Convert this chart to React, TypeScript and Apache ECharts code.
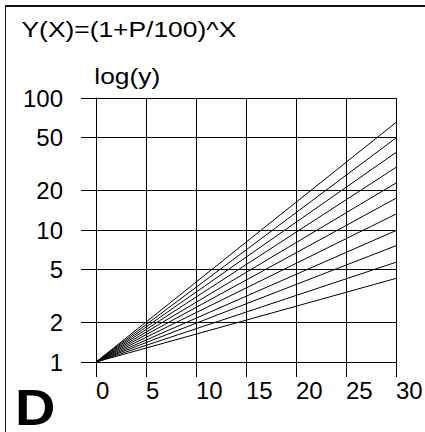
import React, { useEffect, useRef } from "react";
import * as echarts from "echarts";

// Growth rates P (%) of the curves Y(X) = (1 + P/100)^X
const rates = [5, 6, 7, 8, 9, 10, 11, 12, 13, 14, 15];
// Values at X = 30 (start value at X = 0 is 1)
const endValues = [4.3, 5.7, 7.6, 9.9, 13.2, 17.4, 22.7, 29.8, 38.7, 49.8, 65.3];
const startValue = 1;
const xStart = 0;
const xEnd = 30;
const xStep = 5;
const yTickLabels = [1, 2, 5, 10, 20, 50, 100];
const titleText = "Y(X)=(1+P/100)^X";
const yAxisName = "log(y)";
const panelLetter = "D";

const FONT = '"Liberation Sans", Arial, Helvetica, sans-serif';

export default function App() {
  const ref = useRef<HTMLDivElement>(null);

  useEffect(() => {
    if (!ref.current) return;
    const chart = echarts.init(ref.current, null, { renderer: "svg" });
    const yTickPos = yTickLabels.map((v) => Math.log10(v));
    const labelFor = (v: number) => {
      const i = yTickPos.findIndex((p) => Math.abs(p - v) < 1e-6);
      return i >= 0 ? String(yTickLabels[i]) : "";
    };

    const series = rates.map((p, i) => ({
      name: "P=" + p,
      type: "line",
      data: [
        [xStart, Math.log10(startValue)],
        [xEnd, Math.log10(endValues[i])],
      ],
      showSymbol: false,
      symbol: "none",
      lineStyle: { color: "#000", width: 1 },
      silent: true,
    }));

    chart.setOption({
      animation: false,
      backgroundColor: "#fff",
      grid: {
        left: 96,
        top: 98,
        width: 300,
        height: 264,
        containLabel: false,
        outerBoundsMode: "none",
      },
      xAxis: {
        type: "value",
        min: xStart,
        max: xEnd,
        interval: xStep,
        axisLine: { show: true, lineStyle: { color: "#000", width: 1 } },
        axisTick: { show: true, inside: false, length: 15, lineStyle: { color: "#000", width: 1 } },
        axisLabel: {
          show: true,
          color: "#000",
          fontSize: 24,
          fontFamily: FONT,
          align: "left",
          margin: 16,
          showMinLabel: true,
          showMaxLabel: true,
        },
        splitLine: { show: true, lineStyle: { color: "#000", width: 1 } },
      },
      yAxis: {
        type: "value",
        min: 0,
        max: 2,
        axisLine: { show: true, lineStyle: { color: "#000", width: 1 } },
        axisTick: {
          show: true,
          inside: false,
          length: 15,
          customValues: yTickPos,
          lineStyle: { color: "#000", width: 1 },
        },
        axisLabel: {
          show: true,
          customValues: yTickPos,
          formatter: (v: number) => labelFor(v),
          color: "#000",
          fontSize: 24,
          fontFamily: FONT,
          margin: 33,
        },
        splitLine: { show: true, lineStyle: { color: "#000", width: 1 } },
      },
      series,
      graphic: [
        {
          type: "line",
          shape: { x1: 5, y1: 6, x2: 425, y2: 6 },
          style: { stroke: "#111", lineWidth: 2 },
          silent: true,
        },
        {
          type: "line",
          shape: { x1: 5.5, y1: 5, x2: 5.5, y2: 432 },
          style: { stroke: "#111", lineWidth: 1 },
          silent: true,
        },
        {
          type: "text",
          x: 21.5,
          y: 29,
          scaleX: 1.2,
          style: {
            text: titleText,
            font: "22px " + FONT,
            fill: "#000",
            align: "left",
            verticalAlign: "middle",
            textAlign: "left",
            textVerticalAlign: "middle",
          },
          silent: true,
        },
        {
          type: "text",
          x: 94.3,
          y: 76,
          scaleX: 1.2,
          style: {
            text: yAxisName,
            font: "22px " + FONT,
            fill: "#000",
            align: "left",
            verticalAlign: "middle",
            textAlign: "left",
            textVerticalAlign: "middle",
          },
          silent: true,
        },
        {
          type: "text",
          x: 15,
          y: 408,
          scaleX: 1.12,
          style: {
            text: panelLetter,
            font: "bold 50px " + FONT,
            lineHeight: 38,
            fill: "#000",
            align: "left",
            verticalAlign: "middle",
            textAlign: "left",
            textVerticalAlign: "middle",
          },
          silent: true,
        },
      ],
    });

    return () => {
      chart.dispose();
    };
  }, []);

  return (
    <div
      ref={ref}
      style={{ position: "absolute", left: 0, top: 0, width: 425, height: 432 }}
    />
  );
}
